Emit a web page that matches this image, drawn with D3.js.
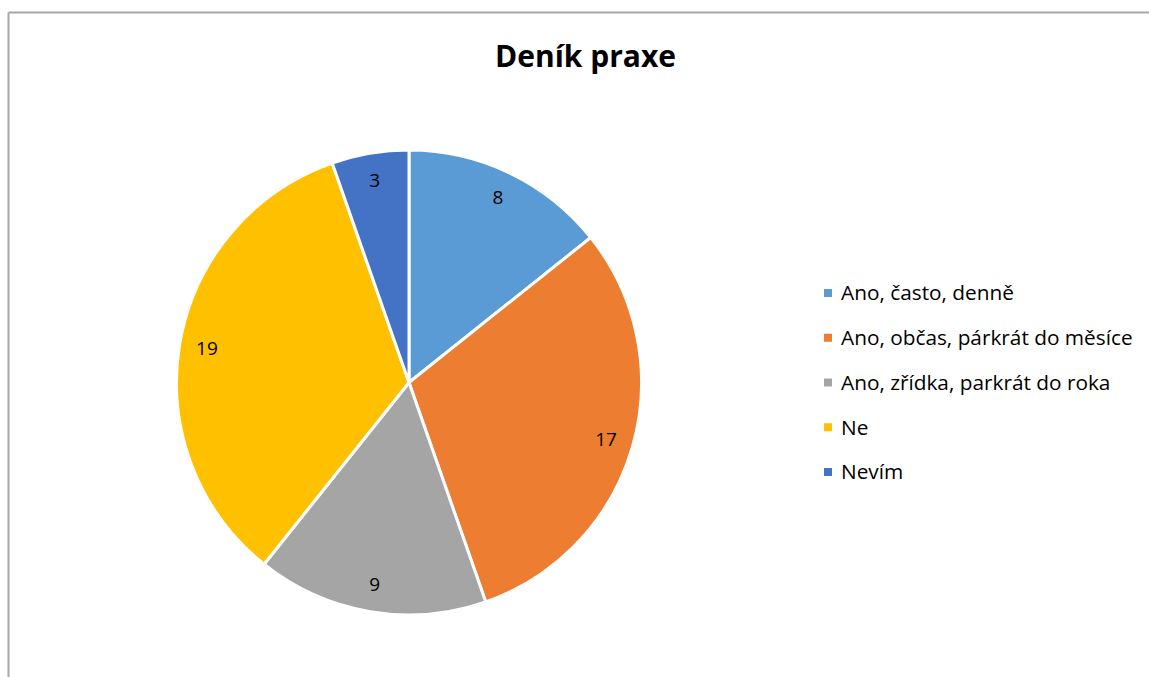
<!DOCTYPE html>
<html>
<head>
<meta charset="utf-8">
<script src="https://cdn.jsdelivr.net/npm/d3@7"></script>
<style>
  html, body { margin: 0; background: #fff; overflow: hidden; }
  svg { display: block; font-family: "Open Sans", "Noto Sans", sans-serif; }
</style>
</head>
<body>
<div id="holder"></div>
<script>
var chartTitle = 'Deník praxe'
var categories = ['Ano, často, denně', 'Ano, občas, párkrát do měsíce', 'Ano, zřídka, parkrát do roka', 'Ne', 'Nevím']
var counts = [8, 17, 9, 19, 3]
var colors = ['#5B9BD5', '#ED7D31', '#A5A5A5', '#FFC000', '#4472C4']

var width = 1149, height = 677
var cx = 409, cy = 382.5, radius = 232.5

var svg = d3.select('#holder')
  .append('svg')
  .attr('width', width)
  .attr('height', height)

// frame (only top and left edges show in the crop)
svg.append('line')
  .attr('x1', 8.5).attr('y1', 12.5).attr('x2', width).attr('y2', 12.5)
  .attr('stroke', '#a6a6a6').attr('stroke-width', 2)
svg.append('line')
  .attr('x1', 8.5).attr('y1', 12.5).attr('x2', 8.5).attr('y2', height)
  .attr('stroke', '#a6a6a6').attr('stroke-width', 2)

svg.append('text')
  .attr('x', 585.5)
  .attr('y', 67)
  .attr('text-anchor', 'middle')
  .style('font-size', '30px')
  .style('font-weight', 'bold')
  .attr('fill', '#000')
  .text(chartTitle)

var color = d3.scaleOrdinal()
  .domain(categories)
  .range(colors)

var pie = d3.pie()
  .sort(null)
  .value(function(d){ return d })

var arcs = pie(counts)

var arc = d3.arc()
  .innerRadius(0)
  .outerRadius(radius)

var labelArc = d3.arc()
  .innerRadius(205)
  .outerRadius(205)

var g = svg.append('g')
  .attr('transform', 'translate(' + cx + ',' + cy + ')')

g.selectAll('.slice')
  .data(arcs)
  .enter()
  .append('path')
  .attr('class', 'slice')
  .attr('d', arc)
  .attr('fill', function(d, i){ return color(categories[i]) })
  .attr('stroke', '#fff')
  .attr('stroke-width', 3)
  .attr('stroke-linejoin', 'round')

g.selectAll('.lbl')
  .data(arcs)
  .enter()
  .append('text')
  .attr('class', 'lbl')
  .attr('transform', function(d){ return 'translate(' + labelArc.centroid(d) + ')' })
  .attr('text-anchor', 'middle')
  .attr('dy', '0.35em')
  .style('font-size', '19px')
  .attr('fill', '#000')
  .text(function(d){ return d.data })

var legendY = d3.scalePoint()
  .domain(categories)
  .range([293, 472])

var legend = svg.append('g')
  .attr('id', 'legend')

var item = legend.selectAll('.item')
  .data(categories)
  .enter()
  .append('g')
  .attr('class', 'item')
  .attr('transform', function(d){ return 'translate(824,' + legendY(d) + ')' })

item.append('rect')
  .attr('x', 0)
  .attr('y', -4)
  .attr('width', 8)
  .attr('height', 8)
  .attr('fill', function(d){ return color(d) })

item.append('text')
  .attr('x', 17)
  .attr('dy', '0.35em')
  .style('font-size', '20.8px')
  .attr('fill', '#000')
  .text(function(d){ return d })
</script>
</body>
</html>
